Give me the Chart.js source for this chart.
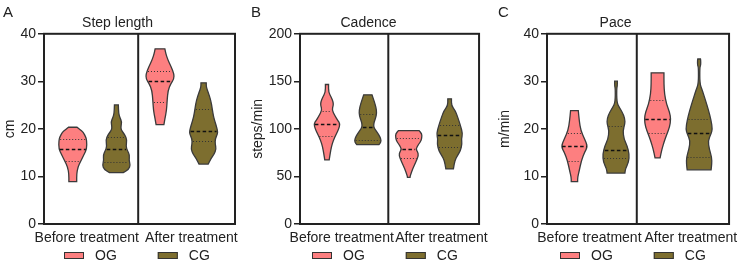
<!DOCTYPE html>
<html>
<head>
<meta charset="utf-8">
<script src="https://cdn.jsdelivr.net/npm/chart.js@4"></script>
<style>
  html, body { margin: 0; padding: 0; background: #fff; }
  .row { display: flex; width: 745px; height: 266px; }
  .panel { position: relative; height: 266px; }
</style>
</head>
<body>
<div class="row">
  <div class="panel" style="width:248px"><canvas id="chartA"></canvas></div>
  <div class="panel" style="width:247px"><canvas id="chartB"></canvas></div>
  <div class="panel" style="width:250px"><canvas id="chartC"></canvas></div>
</div>
<script>
const categories = ['Before treatment', 'After treatment'];
const groups = ['OG', 'CG'];
const groupColors = ['#fd7f80', '#7d6e2f'];

// violin profiles: [value, relative width], bottom to top; quartiles: [Q1, median, Q3]
const stepOgBefore = [[8.9,0.28],[10.5,0.28],[11.9,0.36],[13.3,0.58],[14.7,0.82],[15.8,1.0],[17.5,1.0],[18.3,0.93],[19.3,0.75],[19.9,0.5],[20.35,0.3]];
const stepOgBeforeQ = [13.3, 15.8, 17.8];
const stepCgBefore = [[10.8,0.5],[11.5,0.88],[12.4,1.0],[13.4,0.9],[14.5,0.95],[15.4,0.8],[16.3,0.68],[17.7,0.76],[18.8,0.6],[19.8,0.33],[20.6,0.33],[21.5,0.38],[22.4,0.25],[23.3,0.16],[25.05,0.14]];
const stepCgBeforeQ = [13.1, 15.7, 18.25];
const stepOgAfter = [[20.9,0.28],[22.1,0.35],[23.9,0.47],[26,0.51],[28.1,0.58],[29.5,0.77],[30.5,1.0],[31.6,1.0],[33,0.81],[34.4,0.58],[35.8,0.42],[36.84,0.35]];
const stepOgAfterQ = [25.75, 30.0, 32.1];
const stepCgAfter = [[12.6,0.33],[13.7,0.52],[14.7,0.76],[15.8,0.9],[16.8,0.83],[17.9,0.83],[18.95,1.0],[19.65,1.0],[20.7,0.9],[22.5,0.71],[24.2,0.62],[26,0.52],[27.7,0.33],[28.8,0.19],[29.7,0.19]];
const stepCgAfterQ = [17.5, 19.65, 24.2];

const cadOgBefore = [[67.4,0.17],[73.7,0.24],[80.7,0.33],[87.7,0.48],[94.7,0.71],[100,0.9],[105.3,1.0],[108.8,0.83],[114,0.6],[120,0.38],[124.6,0.48],[128,0.48],[133.3,0.33],[138.6,0.12],[146.7,0.12]];
const cadOgBeforeQ = [93, 105.3, 119.3];
const cadCgBefore = [[83.5,0.85],[86,1.0],[89.5,1.0],[94.7,0.8],[98.5,0.6],[101.8,0.45],[105,0.45],[108,0.5],[114,0.65],[119.3,0.67],[126.3,0.55],[131.6,0.42],[135.8,0.32]];
const cadCgBeforeQ = [88.4, 101.8, 115.8];
const cadOgAfter = [[49.1,0.1],[51,0.12],[57.9,0.3],[65,0.54],[72,0.75],[76,0.68],[79,0.54],[84.2,0.78],[87.7,0.95],[91.2,1.0],[94.7,1.0],[98.2,0.79]];
const cadOgAfterQ = [69.5, 78.6, 90.2];
const cadCgAfter = [[57.9,0.29],[66.7,0.4],[72,0.6],[77.2,0.83],[84.2,0.95],[89.5,0.9],[94.7,1.0],[103.5,0.83],[112.3,0.62],[119.3,0.43],[124.6,0.14],[131.6,0.14]];
const cadCgAfterQ = [80.7, 94, 104.6];

const paceOgBefore = [[8.9,0.24],[9.8,0.24],[11.2,0.36],[13.3,0.52],[15.1,0.76],[16.3,1.0],[17.9,0.76],[19.65,0.48],[21.75,0.36],[23.86,0.29]];
const paceOgBeforeQ = [13.2, 16.3, 19.1];
const paceCgBefore = [[10.7,0.67],[11.6,0.71],[13,0.95],[14.7,1.0],[16.5,0.83],[17.9,0.6],[19.65,0.52],[21.05,0.67],[22.1,0.67],[23.5,0.48],[24.56,0.24],[25.6,0.06],[28.4,0.05],[29.1,0.1],[30.04,0.1]];
const paceCgBeforeQ = [13.8, 15.65, 20.6];
const paceOgAfter = [[13.9,0.19],[15.8,0.33],[17.5,0.52],[18.95,0.71],[20.35,0.9],[22.1,1.0],[23.5,0.9],[25.25,0.67],[27.4,0.52],[29.5,0.48],[31.8,0.48]];
const paceOgAfterQ = [19.2, 22.1, 26];
const paceCgAfter = [[11.4,0.9],[12.6,0.95],[14,0.95],[15.8,0.76],[17.5,0.67],[18.95,0.9],[20,1.0],[21.75,0.9],[23.9,0.71],[26,0.48],[28.1,0.24],[29.5,0.05],[33,0.05],[33.3,0.12],[34.4,0.12],[34.7,0.1]];
const paceCgAfterQ = [14, 19.2, 22.1];

const yTicksStep = [0, 10, 20, 30, 40];
const yTicksCadence = [0, 50, 100, 150, 200];

Chart.defaults.font.family = '"Liberation Sans", Arial, sans-serif';
Chart.defaults.color = '#222';

const INK = '#222';
const HALF = 0.32;

function widthAt(profile, v) {
  for (let i = 0; i < profile.length - 1; i++) {
    const [a, wa] = profile[i], [b, wb] = profile[i + 1];
    if (v >= a && v <= b) return wa + (wb - wa) * (v - a) / (b - a);
  }
  return 0;
}

function drawViolin(ctx, xs, ys, center, profile, quart, color) {
  const right = profile.map(([v, w]) => [xs.getPixelForValue(center + w * HALF), ys.getPixelForValue(v)]);
  const left = profile.slice().reverse().map(([v, w]) => [xs.getPixelForValue(center - w * HALF), ys.getPixelForValue(v)]);
  // duplicate the ends so the truncated caps stay flat
  const pts = [right[0]].concat(right, [right[right.length - 1], left[0]], left, [left[left.length - 1]]);
  const mid = (p, q) => [(p[0] + q[0]) / 2, (p[1] + q[1]) / 2];
  ctx.beginPath();
  let m = mid(pts[pts.length - 1], pts[0]);
  ctx.moveTo(m[0], m[1]);
  for (let i = 0; i < pts.length; i++) {
    const p = pts[i], n = mid(p, pts[(i + 1) % pts.length]);
    ctx.quadraticCurveTo(p[0], p[1], n[0], n[1]);
  }
  ctx.closePath();
  ctx.fillStyle = color;
  ctx.fill();
  ctx.lineWidth = 1.3;
  ctx.strokeStyle = '#3a3a3a';
  ctx.stroke();

  quart.forEach((q, i) => {
    const w = widthAt(profile, q) * HALF;
    const py = Math.round(ys.getPixelForValue(q)) + 0.5;
    ctx.beginPath();
    ctx.moveTo(xs.getPixelForValue(center - w) + 1, py);
    ctx.lineTo(xs.getPixelForValue(center + w) - 1, py);
    if (i === 1) {
      ctx.setLineDash([3.5, 2.5]);
      ctx.lineWidth = 1.5;
      ctx.strokeStyle = '#111';
    } else {
      ctx.setLineDash([1, 2]);
      ctx.lineWidth = 1;
      ctx.strokeStyle = '#333';
    }
    ctx.stroke();
    ctx.setLineDash([]);
  });
}

function makePanel(id, letter, title, yTitle, yTicks, axisWidth, padRight, labelPos, violins, quartiles) {
  const violinPlugin = {
    id: 'violins' + id,
    afterDraw(chart) {
      const { ctx, chartArea: a, scales: { x, y } } = chart;
      ctx.save();
      // violins: slot = category * 2 + group
      violins.forEach((prof, k) => {
        drawViolin(ctx, x, y, k, prof, quartiles[k], groupColors[k % 2]);
      });
      // frame and divider between categories
      ctx.strokeStyle = INK;
      ctx.lineWidth = 2;
      ctx.strokeRect(a.left, a.top, a.right - a.left, a.bottom - a.top);
      const dx = x.getPixelForValue(1.5);
      ctx.beginPath();
      ctx.moveTo(dx, a.top);
      ctx.lineTo(dx, a.bottom);
      ctx.stroke();
      // panel letter
      ctx.fillStyle = INK;
      ctx.font = '15px "Liberation Sans", Arial, sans-serif';
      ctx.textAlign = 'left';
      ctx.textBaseline = 'middle';
      ctx.fillText(letter, 3, 12.5);
      // legend
      ctx.font = '14px "Liberation Sans", Arial, sans-serif';
      const gap = 41, boxW = 20, boxH = 7, tgap = 11;
      const widths = groups.map(g => boxW + tgap + ctx.measureText(g).width);
      const total = widths[0] + widths[1] + gap;
      let lx = Math.round(chart.width / 2 + 13 - total / 2);
      const ly = 255.5;
      groups.forEach((g, i) => {
        ctx.fillStyle = groupColors[i];
        ctx.fillRect(lx, ly - boxH / 2, boxW, boxH);
        ctx.lineWidth = 1;
        ctx.strokeStyle = '#333';
        ctx.strokeRect(lx + 0.5, ly - boxH / 2 + 0.5, boxW - 1, boxH - 1);
        ctx.fillStyle = INK;
        ctx.fillText(g, lx + boxW + tgap, ly + 0.5);
        lx += widths[i] + gap;
      });
      ctx.restore();
    }
  };

  new Chart(document.getElementById(id), {
    type: 'scatter',
    data: { datasets: [] },
    options: {
      responsive: true,
      maintainAspectRatio: false,
      animation: false,
      layout: { padding: { left: 0, right: padRight, top: 0, bottom: 0 } },
      plugins: {
        legend: { display: false },
        tooltip: { enabled: false },
        title: {
          display: true,
          text: title,
          color: INK,
          font: { size: 14, weight: 'normal' },
          padding: { top: 15, bottom: 2 }
        }
      },
      scales: {
        x: {
          type: 'linear',
          min: -0.66,
          max: 3.72,
          afterBuildTicks: s => { s.ticks = labelPos.map(v => ({ value: v })); },
          afterFit: s => { s.height = 42; },
          grid: { display: false, drawTicks: false },
          border: { display: true, color: INK, width: 2 },
          ticks: {
            autoSkip: false,
            maxRotation: 0,
            padding: 6,
            color: INK,
            font: { size: 14 },
            callback: (v, i) => categories[i]
          }
        },
        y: {
          min: yTicks[0],
          max: yTicks[yTicks.length - 1],
          afterBuildTicks: s => { s.ticks = yTicks.map(v => ({ value: v })); },
          afterFit: s => { s.width = axisWidth; },
          grid: { drawOnChartArea: false, drawTicks: true, tickLength: 6, color: INK, lineWidth: 1.5 },
          border: { display: true, color: INK, width: 2 },
          ticks: { padding: 2, color: INK, font: { size: 14 } },
          title: { display: true, text: yTitle, color: INK, font: { size: 14 }, padding: { top: 2, bottom: 0 } }
        }
      }
    },
    plugins: [violinPlugin]
  });
}

makePanel('chartA', 'A', 'Step length', 'cm', yTicksStep, 44, 13, [0.32, 2.72],
  [stepOgBefore, stepCgBefore, stepOgAfter, stepCgAfter],
  [stepOgBeforeQ, stepCgBeforeQ, stepOgAfterQ, stepCgAfterQ]);
makePanel('chartB', 'B', 'Cadence', 'steps/min', yTicksCadence, 52, 6, [0.36, 2.8],
  [cadOgBefore, cadCgBefore, cadOgAfter, cadCgAfter],
  [cadOgBeforeQ, cadCgBeforeQ, cadOgAfterQ, cadCgAfterQ]);
makePanel('chartC', 'C', 'Pace', 'm/min', yTicksStep, 52, 9, [0.36, 2.8],
  [paceOgBefore, paceCgBefore, paceOgAfter, paceCgAfter],
  [paceOgBeforeQ, paceCgBeforeQ, paceOgAfterQ, paceCgAfterQ]);
</script>
</body>
</html>
